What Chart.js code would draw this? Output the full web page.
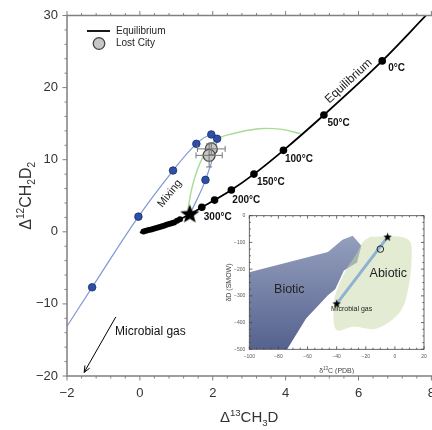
<!DOCTYPE html>
<html>
<head>
<meta charset="utf-8">
<script src="https://cdn.jsdelivr.net/npm/chart.js@4.4.1/dist/chart.umd.min.js"></script>
<style>
  html, body { margin: 0; padding: 0; background: #fff; overflow: hidden; }
  #wrap { position: relative; width: 432px; height: 430px; overflow: hidden; }
  #mainChart { position: absolute; left: 0; top: 0; }
  #insetChart { position: absolute; left: 222px; top: 208px; }
</style>
</head>
<body>
<div id="wrap">
  <canvas id="mainChart" width="445" height="430"></canvas>
  <canvas id="insetChart" width="210" height="166"></canvas>
</div>
<script>
  const FONT = '"Liberation Sans", Arial, Helvetica, sans-serif';

  // main panel
  const xTicks = [-2, 0, 2, 4, 6, 8];
  const yTicks = [-20, -10, 0, 10, 20, 30];

  const eqLineX = [0.0, 0.5, 0.94, 1.1, 1.37, 1.7, 2.05, 2.51, 3.13, 3.94, 5.05, 6.65, 7.85];
  const eqLineY = [-0.1, 0.6, 1.3, 1.75, 2.4, 3.4, 4.4, 5.8, 8.0, 11.3, 16.2, 23.7, 30.0];

  // hot end of the curve: dots pile up near the origin
  const eqDotX = [0.10, 0.17, 0.24, 0.31, 0.38, 0.45, 0.52, 0.59, 0.66, 0.73, 0.80, 0.87, 0.94, 1.02, 1.10, 1.70, 2.05, 2.51, 3.13, 3.94, 5.05, 6.65];
  const eqDotY = [0.04, 0.14, 0.24, 0.33, 0.43, 0.53, 0.63, 0.74, 0.85, 0.97, 1.08, 1.19, 1.30, 1.52, 1.75, 3.4, 4.4, 5.8, 8.0, 11.3, 16.2, 23.7];

  const tempX = [6.65, 5.05, 3.94, 3.13, 2.51, 1.37];
  const tempY = [23.7, 16.2, 11.3, 8.0, 5.8, 2.4];
  const tempText = ['0°C', '50°C', '100°C', '150°C', '200°C', '300°C'];

  const mixX = [-2.0, -1.31, -0.04, 0.91, 1.55, 1.96, 2.12, 1.80, 1.37];
  const mixY = [-13.1, -7.7, 2.1, 8.5, 12.2, 13.5, 12.9, 7.2, 2.4];
  const mixDot = [0, 1, 1, 1, 1, 1, 1, 1, 0];

  const greenX = [1.3, 1.46, 1.73, 2.08, 2.54, 3.27, 3.9, 4.41];
  const greenY = [2.6, 6.7, 10.4, 12.7, 13.6, 14.3, 14.2, 13.6];

  const lcX = [1.96, 1.90];
  const lcY = [11.5, 10.6];
  const lcXErr = [0.38, 0.36];
  const lcYErr = [0.8, 1.6];

  const starX = [1.37];
  const starY = [2.4];

  // inset
  const inXTicks = [-100, -80, -60, -40, -20, 0, 20];
  const inYTicks = [-500, -400, -300, -200, -100, 0];
  const biotX = [-100, -46, -36, -29, -23, -26, -35, -41, -46, -61, -74, -100];
  const biotY = [-212, -136, -90, -75, -112, -175, -205, -275, -298, -385, -500, -500];
  const abioX = [-17, 3.5, 10.4, 11.5, 9.2, 3.5, -12.5, -28.6, -40, -42.3, -41, -33, -26.2, -21.7, -17];
  const abioY = [-79, -79, -97, -160, -272, -360, -422, -416, -428, -360, -297, -197, -141, -97, -79];
  const pathX = [-40, -5];
  const pathY = [-330, -80];
  const ringX = [-10];
  const ringY = [-125];

  const pts = (xs, ys) => xs.map((v, i) => ({ x: v, y: ys[i] }));
  const minus = v => String(v).replace('-', '\u2212');

  function makeStar(r) {
    const c = document.createElement('canvas');
    c.width = c.height = Math.ceil(r * 2 + 2);
    const g = c.getContext('2d');
    const m = c.width / 2;
    g.beginPath();
    for (let i = 0; i < 10; i++) {
      const rr = i % 2 ? r * 0.42 : r;
      const a = -Math.PI / 2 + i * Math.PI / 5;
      g.lineTo(m + rr * Math.cos(a), m + rr * Math.sin(a));
    }
    g.closePath();
    g.fillStyle = '#000';
    g.fill();
    return c;
  }

  function richText(ctx, parts, cx, cy, size, angle) {
    ctx.save();
    ctx.translate(cx, cy);
    ctx.rotate(angle || 0);
    ctx.textAlign = 'left';
    ctx.textBaseline = 'alphabetic';
    let w = 0;
    const info = parts.map(p => {
      const f = (p[1] ? size * 0.64 : size) + 'px ' + FONT;
      ctx.font = f;
      const pw = ctx.measureText(p[0]).width;
      w += pw;
      return { f, pw };
    });
    let px = -w / 2;
    parts.forEach((p, i) => {
      ctx.font = info[i].f;
      const dy = p[1] === 1 ? -size * 0.4 : p[1] === -1 ? size * 0.24 : 0;
      ctx.fillText(p[0], px, size * 0.36 + dy);
      px += info[i].pw;
    });
    ctx.restore();
  }

  const mainDecor = {
    id: 'mainDecor',
    afterDatasetsDraw(chart) {
      const { ctx, chartArea: a, scales: { x, y } } = chart;
      ctx.save();

      // error bars on the Lost City points
      ctx.strokeStyle = '#777';
      ctx.lineWidth = 1;
      lcX.forEach((v, i) => {
        const px = x.getPixelForValue(v), py = y.getPixelForValue(lcY[i]);
        const x0 = x.getPixelForValue(v - lcXErr[i]), x1 = x.getPixelForValue(v + lcXErr[i]);
        const y0 = y.getPixelForValue(lcY[i] - lcYErr[i]), y1 = y.getPixelForValue(lcY[i] + lcYErr[i]);
        ctx.beginPath();
        ctx.moveTo(x0, py); ctx.lineTo(x1, py);
        ctx.moveTo(x0, py - 3); ctx.lineTo(x0, py + 3);
        ctx.moveTo(x1, py - 3); ctx.lineTo(x1, py + 3);
        ctx.moveTo(px, y0); ctx.lineTo(px, y1);
        ctx.moveTo(px - 3, y0); ctx.lineTo(px + 3, y0);
        ctx.moveTo(px - 3, y1); ctx.lineTo(px + 3, y1);
        ctx.stroke();
      });

      // frame: top, left, bottom
      ctx.strokeStyle = '#808080';
      ctx.lineWidth = 1.5;
      ctx.beginPath();
      ctx.moveTo(a.right + 5, a.top); ctx.lineTo(a.left, a.top);
      ctx.lineTo(a.left, a.bottom); ctx.lineTo(a.right + 5, a.bottom);
      ctx.stroke();
      ctx.lineWidth = 1;
      ctx.beginPath();
      for (let v = x.min; v <= x.max + 1e-6; v += 0.4) {
        const px = x.getPixelForValue(v);
        const len = xTicks.some(t => Math.abs(t - v) < 1e-6) ? 4.5 : 2.5;
        ctx.moveTo(px, a.bottom); ctx.lineTo(px, a.bottom + len);
        ctx.moveTo(px, a.top); ctx.lineTo(px, a.top - len);
      }
      for (let v = y.min; v <= y.max + 1e-6; v += 2) {
        const py = y.getPixelForValue(v);
        const len = yTicks.some(t => Math.abs(t - v) < 1e-6) ? 4.5 : 2.5;
        ctx.moveTo(a.left, py); ctx.lineTo(a.left - len, py);
      }
      ctx.stroke();

      // axis titles
      ctx.fillStyle = '#333';
      richText(ctx, [['\u0394', 0], ['13', 1], ['CH', 0], ['3', -1], ['D', 0]], (a.left + a.right) / 2, 417, 15);
      richText(ctx, [['\u0394', 0], ['12', 1], ['CH', 0], ['2', -1], ['D', 0], ['2', -1]], 25, (a.top + a.bottom) / 2, 16, -Math.PI / 2);

      // legend
      ctx.strokeStyle = '#000';
      ctx.lineWidth = 1.8;
      ctx.beginPath(); ctx.moveTo(87, 31); ctx.lineTo(110, 31); ctx.stroke();
      ctx.beginPath(); ctx.arc(99, 43.5, 5.8, 0, Math.PI * 2);
      ctx.fillStyle = '#c6c6c6'; ctx.fill();
      ctx.strokeStyle = '#444'; ctx.lineWidth = 1.3; ctx.stroke();
      ctx.fillStyle = '#222';
      ctx.font = '10px ' + FONT;
      ctx.textAlign = 'left';
      ctx.textBaseline = 'middle';
      ctx.fillText('Equilibrium', 116, 31.5);
      ctx.fillText('Lost City', 116, 43.5);

      // temperature labels
      const offs = [[6, 7], [3.5, 8], [1.5, 8.5], [3, 8], [1, 10], [14, 3]];
      ctx.font = 'bold 10px ' + FONT;
      ctx.fillStyle = '#111';
      tempText.forEach((t, i) => {
        ctx.fillText(t, x.getPixelForValue(tempX[i]) + offs[i][0], y.getPixelForValue(tempY[i]) + offs[i][1]);
      });

      // curve labels
      ctx.font = '12px ' + FONT;
      ctx.fillStyle = '#222';
      ctx.textAlign = 'center';
      ctx.save();
      ctx.translate(x.getPixelForValue(5.73), y.getPixelForValue(20.9));
      ctx.rotate(-0.747);
      ctx.fillText('Equilibrium', 0, 0);
      ctx.restore();
      ctx.font = '11px ' + FONT;
      ctx.save();
      ctx.translate(x.getPixelForValue(0.82), y.getPixelForValue(5.3));
      ctx.rotate(-0.9);
      ctx.fillText('Mixing', 0, 0);
      ctx.restore();

      // microbial gas arrow
      ctx.font = '12px ' + FONT;
      ctx.textAlign = 'left';
      ctx.fillStyle = '#111';
      ctx.fillText('Microbial gas', x.getPixelForValue(-0.68), y.getPixelForValue(-13.8));
      const ax0 = x.getPixelForValue(-0.66), ay0 = y.getPixelForValue(-11.8);
      const ax1 = x.getPixelForValue(-1.53), ay1 = y.getPixelForValue(-19.5);
      const ang = Math.atan2(ay1 - ay0, ax1 - ax0);
      ctx.strokeStyle = '#000';
      ctx.lineWidth = 1;
      ctx.beginPath();
      ctx.moveTo(ax0, ay0); ctx.lineTo(ax1, ay1);
      ctx.moveTo(ax1, ay1); ctx.lineTo(ax1 - 7 * Math.cos(ang - 0.4), ay1 - 7 * Math.sin(ang - 0.4));
      ctx.moveTo(ax1, ay1); ctx.lineTo(ax1 - 7 * Math.cos(ang + 0.4), ay1 - 7 * Math.sin(ang + 0.4));
      ctx.stroke();
      ctx.restore();
    }
  };

  const mainChart = new Chart(document.getElementById('mainChart'), {
    type: 'scatter',
    data: {
      datasets: [
        {
          label: 'Equilibrium',
          data: pts(eqLineX, eqLineY),
          showLine: true,
          pointRadius: 0,
          borderColor: '#000',
          borderWidth: 1.8,
          cubicInterpolationMode: 'monotone',
          order: 5
        },
        {
          label: 'Mixing',
          data: pts(mixX, mixY),
          showLine: true,
          tension: 0.4,
          borderColor: '#8196d6',
          borderWidth: 1.2,
          pointRadius: mixDot.map(d => d ? 3.8 : 0),
          pointBackgroundColor: '#2d4fa6',
          pointBorderColor: '#1a2d6a',
          pointBorderWidth: 0.8,
          order: 4
        },
        {
          label: 'Path',
          data: pts(greenX, greenY),
          showLine: true,
          tension: 0.4,
          borderColor: '#a6dc94',
          borderWidth: 1.4,
          pointRadius: 0,
          order: 6
        },
        {
          label: 'Equilibrium points',
          data: pts(eqDotX, eqDotY),
          pointRadius: eqDotX.map((v, i) => i < 15 ? 3 : 3.8),
          pointBackgroundColor: '#000',
          pointBorderColor: '#000',
          pointBorderWidth: 0,
          order: 3
        },
        {
          label: 'Lost City',
          data: pts(lcX, lcY),
          pointRadius: 6,
          pointBackgroundColor: '#c6c6c6',
          pointBorderColor: '#4a4a4a',
          pointBorderWidth: 1.3,
          order: 2
        },
        {
          label: '300°C',
          data: pts(starX, starY),
          pointStyle: makeStar(10),
          pointRadius: 8,
          order: 1
        }
      ]
    },
    options: {
      responsive: false,
      animation: false,
      events: [],
      layout: { padding: { left: 0, right: 13, top: 12.7, bottom: 0 } },
      plugins: { legend: { display: false }, tooltip: { enabled: false } },
      scales: {
        x: {
          type: 'linear',
          min: -2,
          max: 8,
          afterBuildTicks: s => { s.ticks = xTicks.map(v => ({ value: v })); },
          afterFit: s => { s.height = 54; },
          grid: { display: false, drawTicks: false },
          border: { display: false },
          ticks: {
            padding: 10,
            maxRotation: 0,
            autoSkip: false,
            color: '#333',
            font: { family: FONT, size: 13 },
            callback: minus
          }
        },
        y: {
          type: 'linear',
          min: -20,
          max: 30,
          afterBuildTicks: s => { s.ticks = yTicks.map(v => ({ value: v })); },
          afterFit: s => { s.width = 67; },
          grid: { display: false, drawTicks: false },
          border: { display: false },
          ticks: {
            padding: 9,
            color: '#333',
            font: { family: FONT, size: 13, lineHeight: 1 },
            callback: minus
          }
        }
      }
    },
    plugins: [mainDecor]
  });

  const insetDecor = {
    id: 'insetDecor',
    afterDatasetsDraw(chart) {
      const { ctx, chartArea: a, scales: { x, y } } = chart;
      ctx.save();
      ctx.strokeStyle = '#444';
      ctx.lineWidth = 0.8;
      ctx.strokeRect(a.left, a.top, a.right - a.left, a.bottom - a.top);
      ctx.beginPath();
      for (let v = -100; v <= 20; v += 5) {
        const px = x.getPixelForValue(v);
        const len = v % 20 === 0 ? 3 : 1.6;
        ctx.moveTo(px, a.bottom); ctx.lineTo(px, a.bottom - len);
        ctx.moveTo(px, a.top); ctx.lineTo(px, a.top + len);
      }
      for (let v = -500; v <= 0; v += 25) {
        const py = y.getPixelForValue(v);
        const len = v % 100 === 0 ? 3 : 1.6;
        ctx.moveTo(a.left, py); ctx.lineTo(a.left + len, py);
        ctx.moveTo(a.right, py); ctx.lineTo(a.right - len, py);
      }
      ctx.stroke();

      ctx.fillStyle = '#444';
      richText(ctx, [['\u03b4', 0], ['13', 1], ['C (PDB)', 0]], (a.left + a.right) / 2, 162, 7);
      richText(ctx, [['\u03b4D (SMOW)', 0]], 6, (a.top + a.bottom) / 2, 7, -Math.PI / 2);

      ctx.fillStyle = '#222';
      ctx.textAlign = 'center';
      ctx.textBaseline = 'middle';
      ctx.font = '12.5px ' + FONT;
      ctx.fillText('Biotic', x.getPixelForValue(-72.5), y.getPixelForValue(-278));
      ctx.fillText('Abiotic', x.getPixelForValue(-4.5), y.getPixelForValue(-216));
      ctx.font = '7px ' + FONT;
      ctx.fillText('Microbial gas', x.getPixelForValue(-29.7), y.getPixelForValue(-350));
      ctx.restore();
    }
  };

  const insetChart = new Chart(document.getElementById('insetChart'), {
    type: 'scatter',
    data: {
      datasets: [
        {
          label: 'Biotic',
          data: pts(biotX, biotY),
          showLine: true,
          fill: 'shape',
          borderWidth: 0,
          pointRadius: 0,
          backgroundColor: ctx => {
            const ca = ctx.chart.chartArea;
            if (!ca) return '#7a86ab';
            const g = ctx.chart.ctx.createLinearGradient(0, ca.top, 0, ca.bottom);
            g.addColorStop(0, '#a0aac6');
            g.addColorStop(1, '#55628e');
            return g;
          },
          order: 5
        },
        {
          label: 'Abiotic',
          data: pts(abioX, abioY),
          showLine: true,
          fill: 'shape',
          tension: 0.35,
          borderWidth: 0,
          pointRadius: 0,
          backgroundColor: 'rgba(200, 218, 168, 0.5)',
          order: 4
        },
        {
          label: 'Path',
          data: pts(pathX, pathY),
          showLine: true,
          borderColor: '#8fb1d2',
          borderWidth: 3,
          pointStyle: makeStar(4.5),
          pointRadius: 4,
          order: 2
        },
        {
          label: 'Lost City',
          data: pts(ringX, ringY),
          pointRadius: 3.3,
          pointBackgroundColor: 'rgba(0,0,0,0)',
          pointBorderColor: '#222',
          pointBorderWidth: 1,
          order: 1
        }
      ]
    },
    options: {
      responsive: false,
      animation: false,
      events: [],
      layout: { padding: { left: 0, right: 8, top: 7.7, bottom: 0 } },
      plugins: { legend: { display: false }, tooltip: { enabled: false } },
      scales: {
        x: {
          type: 'linear',
          min: -100,
          max: 20,
          afterBuildTicks: s => { s.ticks = inXTicks.map(v => ({ value: v })); },
          afterFit: s => { s.height = 24.7; },
          grid: { display: false, drawTicks: false },
          border: { display: false },
          ticks: {
            padding: 4,
            maxRotation: 0,
            autoSkip: false,
            color: '#555',
            font: { family: FONT, size: 5 },
            callback: minus
          }
        },
        y: {
          type: 'linear',
          min: -500,
          max: 0,
          afterBuildTicks: s => { s.ticks = inYTicks.map(v => ({ value: v })); },
          afterFit: s => { s.width = 27.3; },
          grid: { display: false, drawTicks: false },
          border: { display: false },
          ticks: {
            padding: 4,
            autoSkip: false,
            color: '#555',
            font: { family: FONT, size: 5 },
            callback: minus
          }
        }
      }
    },
    plugins: [insetDecor]
  });
</script>
</body>
</html>
